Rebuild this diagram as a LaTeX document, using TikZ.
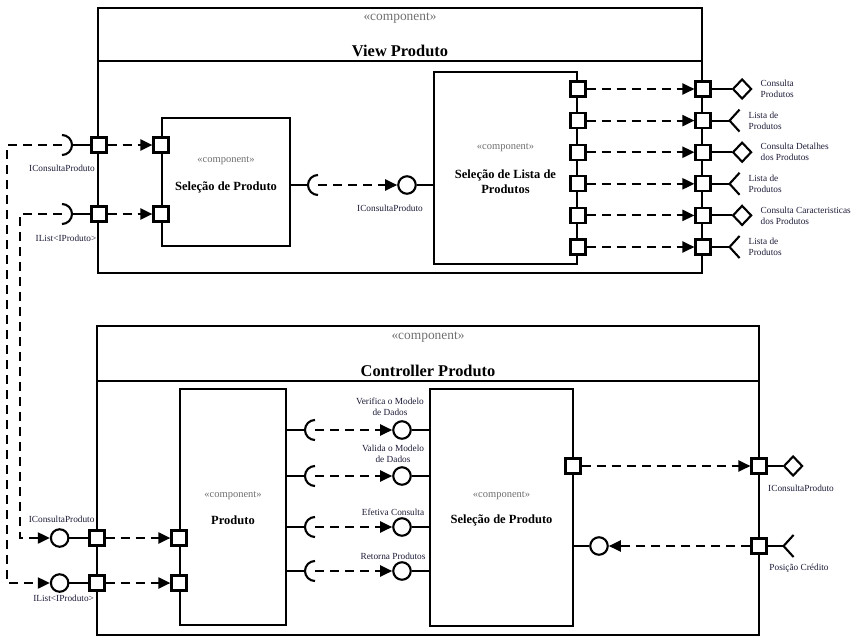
\documentclass[tikz,border=0pt]{standalone}
\usepackage{fontspec}
\setmainfont{Liberation Serif}
\usetikzlibrary{positioning, arrows.meta, shapes.geometric, calc}
\definecolor{stereogrey}{HTML}{707070}
\definecolor{labelc}{HTML}{1C1C38}
\tikzset{
    socket/.pic = {
    \draw (0,-10) arc (-90:90:10);
    },
    fork/.pic = {
    \draw (10,-11) -- (0,0) -- (10,11);
    },
    comp/.style={draw, fill=white, inner sep=0},
    port/.style={draw, fill=white, minimum size=15pt, inner sep=0},
    ball/.style={circle, draw, fill=white, minimum size=17.5pt, inner sep=0},
    iface/.style={diamond, draw, fill=white, minimum width=19pt, minimum height=20pt, inner sep=0},
    sock/.style={circle, minimum size=20pt, inner sep=0},
    dep/.style={dash pattern=on 9pt off 6pt, -{Triangle[length=12pt, width=11pt]}},
    stereo/.style={text=stereogrey, font=\fontsize{10.5}{12}\selectfont},
    bigstereo/.style={text=stereogrey, font=\fontsize{13.4}{15}\selectfont},
    ctitle/.style={font=\bfseries\fontsize{12.5}{15}\selectfont, align=center},
    bigtitle/.style={font=\bfseries\fontsize{16.4}{18}\selectfont},
    lbl/.style={text=labelc, font=\fontsize{9.3}{11}\selectfont, align=left, inner sep=0},
}

\begin{document}
\begin{tikzpicture}[x=1pt, y=-1pt, line width=2.1pt]
    \useasboundingbox (0,0) rectangle (856,643);

    \node[comp, minimum width=604pt, minimum height=265pt] (view) at (400,140.5) {};
    \draw ([yshift=-54pt]view.north west) -- ([yshift=-54pt]view.north east);
    \node[bigstereo] at ([yshift=-11pt]view.north) {«component»};
    \node[bigtitle] at ([yshift=-44pt]view.north) {View Produto};

    \node[comp, minimum width=128pt, minimum height=128pt] (selP) at (226,182) {};
    \node[stereo] at ([yshift=21pt]selP.center) {«component»};
    \node[ctitle] at ([yshift=-5pt]selP.center) {Seleção de Produto};

    \node[comp, minimum width=143pt, minimum height=192pt] (selL) at (505.5,168) {};
    \node[stereo] at ([yshift=20pt]selL.center) {«component»};
    \node[ctitle] at ([yshift=-13.5pt]selL.center) {Seleção de Lista de\\Produtos};

    \node[port] (vp1) at (99,145) {};
    \node[port] (vp2) at (99,214) {};
    \node[port] (sp1) at (vp1 -| selP.west) {};
    \node[port] (sp2) at (vp2 -| selP.west) {};
    \draw[dep] (vp1) -- (sp1);
    \draw[dep] (vp2) -- (sp2);

    \node[sock] (vs1) at (62,145) {};
    \node[sock] (vs2) at (62,214) {};
    \path (vs1) pic {socket};
    \path (vs2) pic {socket};
    \draw (vs1.east) -- (vp1);
    \draw (vs2.east) -- (vp2);
    \node[lbl, below=8pt of vs1] {IConsultaProduto};
    \node[lbl, below=9pt of vs2, xshift=4pt] {IList<IProduto>};

    \node[sock] (ms) at (318,185) {};
    \path (ms) pic[rotate=180] {socket};
    \draw (selP.east |- ms) -- (ms.west);
    \node[ball] (mb) at (407,185) {};
    \draw[dep] (ms.center) -- (mb);
    \draw (mb) -- (mb -| selL.west);
    \node[lbl, below=9pt of mb, xshift=-17pt] {IConsultaProduto};

    \foreach \i/\y in {1/89,2/120.6,3/152.2,4/183.8,5/215.4,6/247} {
      \node[port] (lp\i) at (578,\y) {};
      \node[port] (rp\i) at (703,\y) {};
      \draw[dep] (lp\i) -- (rp\i);
    }
    \foreach \i/\txt in {1/{Consulta\\Produtos}, 3/{Consulta Detalhes\\dos Produtos}, 5/{Consulta Caracteristicas\\dos Produtos}} {
      \node[iface, right=20pt of rp\i] (d\i) {};
      \draw (rp\i) -- (d\i);
      \node[lbl, right=7pt of d\i] {\txt};
    }
    \foreach \i in {2,4,6} {
      \coordinate[right=18pt of rp\i] (f\i);
      \draw (rp\i) -- (f\i);
      \path (f\i) pic {fork};
      \node[lbl, right=18pt of f\i] {Lista de\\Produtos};
    }

    \node[comp, minimum width=662pt, minimum height=309pt] (ctrl) at (428,480.5) {};
    \draw ([yshift=-56pt]ctrl.north west) -- ([yshift=-56pt]ctrl.north east);
    \node[bigstereo] at ([yshift=-12pt]ctrl.north) {«component»};
    \node[bigtitle] at ([yshift=-46pt]ctrl.north) {Controller Produto};

    \node[comp, minimum width=106pt, minimum height=236pt] (prod) at (233,507) {};
    \node[stereo] at ([yshift=11pt]prod.center) {«component»};
    \node[ctitle] at ([yshift=-13pt]prod.center) {Produto};

    \node[comp, minimum width=143pt, minimum height=237pt] (selB) at (501.5,507.5) {};
    \node[stereo] at ([yshift=11.5pt]selB.center) {«component»};
    \node[ctitle] at ([yshift=-12.5pt]selB.center) {Seleção de Produto};

    \node[port] (cp1) at (97,538) {};
    \node[port] (cp2) at (97,583) {};
    \node[port] (pp1) at (cp1 -| prod.west) {};
    \node[port] (pp2) at (cp2 -| prod.west) {};
    \node[ball, left=19pt of cp1] (bi1) {};
    \node[ball, left=19pt of cp2] (bi2) {};
    \draw (bi1) -- (cp1);
    \draw (bi2) -- (cp2);
    \draw[dep] (cp1) -- (pp1);
    \draw[dep] (cp2) -- (pp2);
    \node[lbl, above=5pt of bi1, xshift=2pt] {IConsultaProduto};
    \node[lbl, below=1.5pt of bi2, xshift=4pt] {IList<IProduto>};

    \draw[dep] (vs1.center) -- ++(-55,0) |- (bi2);
    \draw[dep] (vs2.center) -- ++(-42,0) |- (bi1);

    \foreach \i/\y in {1/430,2/476,3/527,4/571} {
      \node[sock] (bs\i) at (315,\y) {};
      \path (bs\i) pic[rotate=180] {socket};
      \draw (prod.east |- bs\i) -- (bs\i.west);
      \node[ball] (bb\i) at (402,\y) {};
      \draw[dep] (bs\i.center) -- (bb\i);
      \draw (bb\i) -- (bb\i -| selB.west);
    }
    \node[lbl, align=center] at (390,406.5) {Verifica o Modelo\\de Dados};
    \node[lbl, align=center] at (393,453.5) {Valida o Modelo\\de Dados};
    \node[lbl] at (393,512) {Efetiva Consulta};
    \node[lbl] at (393,556) {Retorna Produtos};

    \node[port] (sq) at (573,466) {};
    \node[port] (oq) at (759,466) {};
    \draw[dep] (sq) -- (oq);
    \node[iface, right=15pt of oq] (dq) {};
    \draw (oq) -- (dq);
    \node[lbl] at (801,488) {IConsultaProduto};

    \node[ball] (bp) at (599,546) {};
    \draw (bp -| selB.east) -- (bp);
    \node[port] (op) at (759,546) {};
    \draw[dep] (op) -- (bp);
    \coordinate[right=16pt of op] (fp);
    \draw (op) -- (fp);
    \path (fp) pic {fork};
    \node[lbl] at (799,568) {Posição Crédito};

  \end{tikzpicture}
\end{document}
